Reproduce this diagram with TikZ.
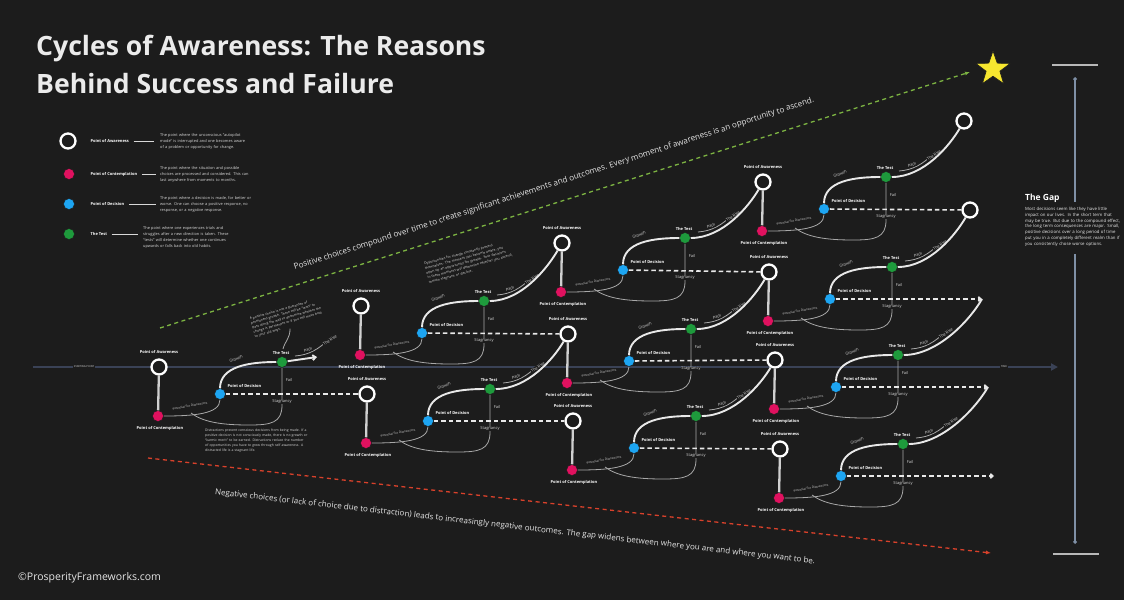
\documentclass[tikz,border=0pt]{standalone}
\usepackage{fontspec}
\setmainfont{Open Sans}
\usetikzlibrary{shapes.geometric,arrows.meta,calc}
\hyphenpenalty=10000
\exhyphenpenalty=10000
\definecolor{bg}{HTML}{1C1C1C}
\definecolor{mag}{HTML}{E0115F}
\definecolor{blu}{HTML}{1DA5F2}
\definecolor{grn}{HTML}{1E9A3C}
\definecolor{wl}{HTML}{E8E8E8}
\definecolor{vl}{HTML}{D0D0D0}
\definecolor{tl}{HTML}{A8A8A8}
\definecolor{lg}{HTML}{D8D8D8}
\definecolor{axc}{HTML}{3A4256}
\definecolor{gapc}{HTML}{7F90A6}
\definecolor{capc}{HTML}{B8B8B8}
\definecolor{gd}{HTML}{7CB342}
\definecolor{rd}{HTML}{D9412B}
\definecolor{stc}{HTML}{F7E72F}
\tikzset{
 aw/.style={circle, draw=white, line width=2.3pt, fill=bg, minimum size=15pt, inner sep=0pt},
 ct/.style={circle, fill=mag, draw=bg, line width=0.5pt, minimum size=11pt, inner sep=0pt},
 dc/.style={circle, fill=blu, draw=bg, line width=0.5pt, minimum size=11pt, inner sep=0pt},
 ts/.style={circle, fill=grn, draw=bg, line width=0.5pt, minimum size=11pt, inner sep=0pt},
 lbl/.style={font=\fontsize{4}{4.5}\selectfont\bfseries, text=white, inner sep=0.4pt},
 sml/.style={font=\fontsize{4}{4.5}\selectfont, text=lg, inner sep=0.5pt, fill=bg},
 tny/.style={font=\fontsize{3}{3.5}\selectfont, text=lg, inner sep=0.4pt, fill=bg},
 para/.style={font=\fontsize{3.4}{5}\selectfont, text=lg, align=left, inner sep=0pt},
 vlin/.style={draw=vl, line width=2.3pt},
 mainl/.style={draw=wl, line width=1.9pt},
 thinl/.style={draw=tl, line width=0.8pt},
 dsh/.style={draw=wl, line width=1.6pt, dash pattern=on 4.5pt off 3pt},
 legl/.style={draw=lg, line width=0.7pt},
 legd/.style={font=\fontsize{3.9}{6}\selectfont, text=lg, align=left, inner sep=0pt, anchor=west},
}
\newcommand\mycyc[3]{%
\begin{scope}[shift={(#2,#3)}]
 \node[aw] (#1a) at (0,0) {};
 \node[ct] (#1c) at (-1,49) {};
 \node[dc] (#1d) at (61,27) {};
 \node[ts] (#1t) at (123,-5) {};
 \coordinate (#1s) at (123,38);
 \coordinate (#1q) at (32,46);
 \coordinate (#1p) at (136,-11);
 \coordinate (#1r) at (170,-28);
 \draw[vlin] (#1a) -- (#1c);
 \draw[thinl] (#1c) .. controls (35,49) and (61,47) .. (#1d);
 \draw[thinl] (#1t) -- (#1s) .. controls (123,56) and (112,58) .. (90,58) .. controls (62,58) and (44,55) .. (#1q);
 \draw[thinl] (#1p) .. controls (150,-12) and (160,-18) .. (#1r);
 \draw[mainl] (#1d) .. controls +(0,-28) and +(-32,0) .. (#1t);
 \node[lbl] (#1al) at (0,-15) {Point of Awareness};
 \node[lbl] (#1cl) at (1,61) {Point of Contemplation};
 \node[lbl,anchor=west] (#1dl) at (68,19) {Point of Decision};
 \node[lbl] (#1tl) at (122,-14) {The Test};
 \node[sml,rotate=20] (#1g) at (77,-8) {Growth};
 \node[sml] (#1f) at (130,13) {Fail};
 \node[sml] (#1sl) at (123,35) {Stagnancy};
 \node[sml,rotate=15] (#1pl) at (149,-17) {Path};
 \node[sml,rotate=35] (#1rl) at (171,-27) {The Rise};
 \node[tny,rotate=10] (#1pd) at (31,39) {Potential For Distractions};
\end{scope}}
\begin{document}
\begin{tikzpicture}[x=1pt,y=-1pt]
\fill[bg] (0,0) rectangle (1124,600);
\useasboundingbox (0,0) rectangle (1124,600);

% title
\node[anchor=base west, font=\fontsize{26.6}{30}\selectfont\bfseries, text=white!92!black, inner sep=0] (tt1) at (36,55) {Cycles of Awareness: The Reasons};
\node[anchor=base west, font=\fontsize{26.6}{30}\selectfont\bfseries, text=white!92!black, inner sep=0] (tt2) at (36,93) {Behind Success and Failure};
\node[anchor=base west, font=\fontsize{10.5}{13}\selectfont, text=white!90!black, inner sep=0] (copy) at (18,580) {©ProsperityFrameworks.com};

% legend
\node[aw] (lga) at (68,141) {};
\node[ct] (lgc) at (69,174) {};
\node[dc] (lgd) at (69,204) {};
\node[ts] (lgt) at (69,234) {};
\node[lbl,anchor=west] (lgal) at (90,141) {Point of Awareness};
\node[lbl,anchor=west] (lgcl) at (90,174) {Point of Contemplation};
\node[lbl,anchor=west] (lgdl) at (90,204) {Point of Decision};
\node[lbl,anchor=west] (lgtl) at (90,234) {The Test};
\node[legd, text width=92pt] (lgad) at (160,141) {The point where the unconscious “autopilot mode” is interrupted and one becomes aware of a problem or opportunity for change.};
\node[legd, text width=92pt] (lgcd) at (160,174) {The point where the situation and possible choices are processed and considered. This can last anywhere from moments to months.};
\node[legd, text width=92pt] (lgdd) at (160,204) {The point where a decision is made, for better or worse. One can choose a positive response, no response, or a negative response.};
\node[legd, text width=90pt] (lgtd) at (143,237) {The point where one experiences trials and struggles after a new direction is taken. These “tests” will determine whether one continues upwards or falls back into old habits.};
\draw[legl] ([xshift=4pt]lgal.east) -- ([xshift=-6pt]lgad.west |- lgal.east);
\draw[legl] ([xshift=4pt]lgcl.east) -- ([xshift=-4pt]lgcd.west |- lgcl.east);
\draw[legl] ([xshift=4pt]lgdl.east) -- ([xshift=-4pt]lgdd.west |- lgdl.east);
\draw[legl] ([xshift=4pt]lgtl.east) -- ([xshift=-5pt]lgtd.west |- lgtl.east);

% axis
\coordinate (axs) at (33,367);
\coordinate (axe) at (1058,367);
\draw[axc, line width=2.4pt, -{Triangle[length=7pt,width=7pt]}] (axs) -- (axe);
\node[font=\fontsize{2.6}{3}\selectfont, text=lg, fill=bg, inner sep=0.6pt] (axl) at (84,367) {STARTING POINT};
\node[font=\fontsize{2.6}{3}\selectfont, text=lg, fill=bg, inner sep=0.6pt] (axr) at (1004,367) {TIME};

% dashed trend lines
\coordinate (gs) at (160,328);
\coordinate (ge) at (970,72);
\draw[gd, line width=1.3pt, dash pattern=on 4pt off 3.5pt, -{Latex[length=5pt,width=4pt]}] (gs) -- (ge);
\coordinate (rs) at (148,458);
\coordinate (re) at (991,553);
\draw[rd, line width=1.3pt, dash pattern=on 4pt off 3.5pt, -{Latex[length=5pt,width=4pt]}] (rs) -- (re);
\node[rotate=17.9, text=white!90!black, inner sep=0] (ptxt) at (554,184) {\resizebox{546pt}{!}{Positive choices compound over time to create significant achievements and outcomes. Every moment of awareness is an opportunity to ascend.}};
\node[rotate=-6.6, text=white!90!black, inner sep=0] (ntxt) at (515,527) {\resizebox{604pt}{!}{Negative choices (or lack of choice due to distraction) leads to increasingly negative outcomes. The gap widens between where you are and where you want to be.}};

% star
\node[star, star points=5, star point ratio=2.5, fill=stc, draw=bg, line width=0.6pt, minimum size=36pt, inner sep=0pt] (star) at (993,69) {};

% the gap
\coordinate (g1) at (1075,77);
\coordinate (g2) at (1075,202);
\coordinate (g3) at (1075,254);
\coordinate (g4) at (1075,544);
\coordinate (c1) at (1052,65);
\coordinate (c2) at (1098,65);
\coordinate (c3) at (1053,554);
\coordinate (c4) at (1099,554);
\draw[gapc, line width=1.5pt, {Straight Barb[length=1.5pt,width=3pt]}-] (g1) -- (g2);
\draw[gapc, line width=1.5pt, -{Straight Barb[length=1.5pt,width=3pt]}] (g3) -- (g4);
\draw[capc, line width=2pt] (c1) -- (c2);
\draw[capc, line width=2pt] (c3) -- (c4);
\node[anchor=west, font=\fontsize{8.5}{10}\selectfont\bfseries, text=white, inner sep=0] (gapt) at (1025,198) {The Gap};
\node[anchor=north west, text width=96pt, align=left, font=\fontsize{4.3}{5.8}\selectfont, text=white!92!black, inner sep=0] (gapd) at (1025,207) {Most decisions seem like they have little impact on our lives. In the short term that may be true. But due to the compound effect, the long term consequences are major. Small, positive decisions over a long period of time put you in a completely different realm than if you consistently chose worse options.};

% cycles
\mycyc{a}{159}{367}
\mycyc{b}{361}{306}
\mycyc{c}{367}{394}
\mycyc{d}{562}{243}
\mycyc{e}{568}{334}
\mycyc{f}{573}{421}
\mycyc{g}{763}{182}
\mycyc{h}{769}{272}
\mycyc{i}{775}{360}
\mycyc{j}{780}{449}
\node[aw] (ka) at (964,121) {};
\node[aw] (la) at (970,210) {};
\coordinate (mend) at (982,299);
\coordinate (nend) at (988,387);
\coordinate (oend) at (994,476);
\coordinate (aend) at (317,357);

% rise connectors
\draw[mainl, -{Straight Barb[length=3pt,width=5pt]}] (at) -- (aend);
\draw[mainl] (bt) .. controls +(38,0) and +(-14,24) .. (da);
\draw[mainl] (ct) .. controls +(38,0) and +(-14,24) .. (ea);
\draw[mainl] (dt) .. controls +(38,0) and +(-14,24) .. (ga);
\draw[mainl] (et) .. controls +(38,0) and +(-14,24) .. (ha);
\draw[mainl] (ft) .. controls +(38,0) and +(-14,24) .. (ia);
\draw[mainl] (gt) .. controls +(38,0) and +(-14,24) .. (ka);
\draw[mainl] (ht) .. controls +(38,0) and +(-14,24) .. (la);
\draw[mainl] (it) .. controls +(38,0) and +(-14,24) .. (mend);
\draw[mainl] (jt) .. controls +(38,0) and +(-14,24) .. (nend);

% stagnant (dashed) connectors
\draw[dsh] (ad) -- (ca);
\draw[dsh] (bd) -- (ea);
\draw[dsh] (cd) -- (fa);
\draw[dsh] (dd) -- (ha);
\draw[dsh] (ed) -- (ia);
\draw[dsh] (fd) -- (ja);
\draw[dsh] (gd) -- (la);
\draw[dsh, -{Straight Barb[length=2.5pt,width=4.5pt]}] (hd) -- (mend);
\draw[dsh, -{Straight Barb[length=2.5pt,width=4.5pt]}] (id) -- (nend);
\draw[dsh, -{Straight Barb[length=2.5pt,width=4.5pt]}] (jd) -- (oend);

% annotations
\node[para, rotate=16, text width=72pt, font=\fontsize{3.3}{4.6}\selectfont] (ann1) at (287,318) {A positive choice is not a guarantee of permanent growth. There will be “tests” to pass along the way to determine whether the change is permanent or if you will move back to your old ways.};
\coordinate (ann1p) at (283,349);
\draw[thinl] (ann1.south) .. controls +(0,10) and +(2,-8) .. (ann1p);
\node[para, anchor=north west, text width=108pt] (ann2) at (205,429) {Distractions prevent conscious decisions from being made. If a positive decision is not consciously made, there is no growth or “karmic merit” to be earned. Distractions reduce the number of opportunities you have to grow through self awareness. A distracted life is a stagnant life.};
\node[para, rotate=15, text width=88pt, font=\fontsize{3.4}{4.8}\selectfont] (ann3) at (469,262) {Opportunities for change constantly present themselves. The moment you become aware, you open up an opportunity for growth. Your decisions in these moments will determine whether you ascend, remain stagnant, or decline.};
\end{tikzpicture}
\end{document}
